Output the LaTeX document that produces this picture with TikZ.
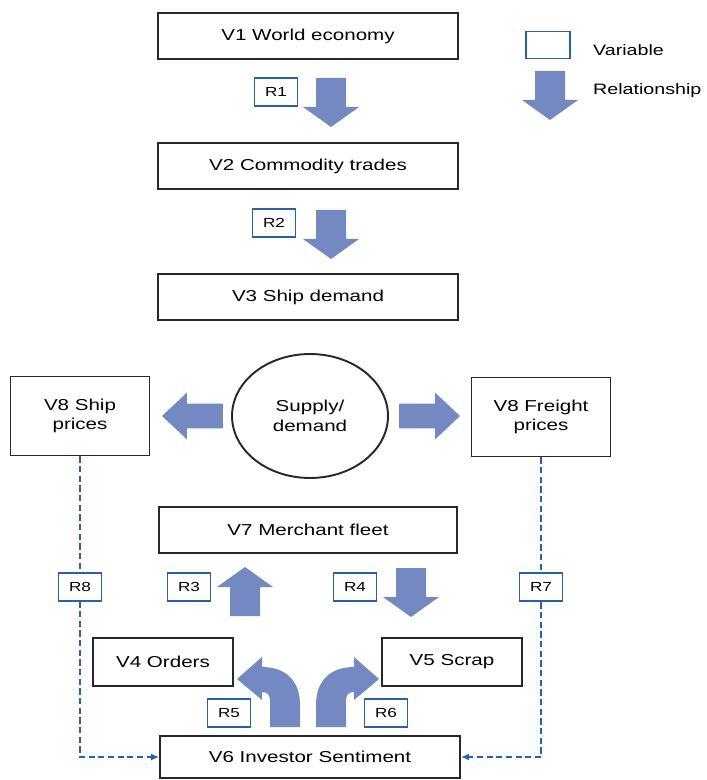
\documentclass[tikz,border=0pt]{standalone}
\usepackage{fontspec}
\newfontfamily\diafont[FakeStretch=1.3]{Liberation Sans}
\usetikzlibrary{arrows.meta,shapes.geometric}

\definecolor{relblue}{RGB}{116,136,194}
\definecolor{rblue}{RGB}{38,98,168}
\definecolor{boxgray}{RGB}{40,40,40}

% block arrow, tip at the origin, pointing down
\tikzset{
    fatarrow/.pic={
        \fill[relblue] (-15,-49) -- (15,-49) -- (15,-20) -- (28,-20) -- (0,0)
            -- (-28,-20) -- (-15,-20) -- cycle;
    }
}

\begin{document}
\begin{tikzpicture}[x=0.02cm, y=-0.02cm,
        var/.style={draw=boxgray, line width=1.1pt, fill=white, align=center,
            font=\diafont\fontsize{9}{11}\selectfont, inner sep=0pt},
        wide/.style={minimum width=6cm, minimum height=0.92cm},
        side/.style={minimum width=2.8cm, minimum height=0.97cm},
        price/.style={minimum width=2.78cm, minimum height=1.58cm},
        rel/.style={draw=rblue, line width=1pt, fill=white, inner sep=0pt,
            font=\diafont\fontsize{7.5}{9}\selectfont,
            minimum width=0.86cm, minimum height=0.57cm},
        key/.style={anchor=west, font=\diafont\fontsize{8.6}{10}\selectfont},
        sentiment/.style={draw=rblue, line width=1.5pt,
            dash pattern=on 3.5pt off 2pt, -{Latex[length=4.5pt,width=4pt]}}]
    \useasboundingbox (0,0) rectangle (706,780);

    % variables
    \node[var, wide] (world) at (308,36) {V1 World economy};
    \node[var, wide] (trade) at (308,166) {V2 Commodity trades};
    \node[var, wide] (demand) at (308,297) {V3 Ship demand};
    \node[var, ellipse, minimum width=3.12cm, minimum height=2.48cm] (sd) at (310,416) {Supply/\\demand};
    \node[var, price] (shipP) at (80,416) {V8 Ship\\prices};
    \node[var, price] (freightP) at (541,417) {V8 Freight\\prices};
    \node[var, wide, minimum width=5.96cm] (fleet) at (308,530) {V7 Merchant fleet};
    \node[var, side] (orders) at (163,662) {V4 Orders};
    \node[var, side] (scrap) at (452,662) {V5 Scrap};
    \node[var, wide, minimum height=0.84cm] (inv) at (310,757) {V6 Investor Sentiment};

    % relationships
    \pic at (331,127) {fatarrow};
    \pic at (331,259) {fatarrow};
    \pic[rotate=-90, xscale=0.83, yscale=1.24] at (162,416) {fatarrow};
    \pic[rotate=90, xscale=0.83, yscale=1.24] at (460,416) {fatarrow};
    \pic[rotate=180] at (245,567) {fatarrow};
    \pic at (411,617) {fatarrow};
    \fill[relblue] (270,727) -- (270,702) .. controls (270,695) and (268,692) .. (262,692)
        -- (262,700) -- (237,679) -- (262,657) -- (262,667)
        .. controls (285,667) and (300,680) .. (300,705) -- (300,727) -- cycle;
    \fill[relblue] (346,727) -- (346,702) .. controls (346,695) and (348,692) .. (354,692)
        -- (354,700) -- (379,679) -- (354,657) -- (354,667)
        .. controls (331,667) and (316,680) .. (316,705) -- (316,727) -- cycle;

    \draw[sentiment] (shipP.south) |- (inv.west);
    \draw[sentiment] (freightP.south) |- (inv.east);

    \node[rel] (r1) at (276,92) {R1};
    \node[rel] (r2) at (274,223) {R2};
    \node[rel] (r3) at (189,587) {R3};
    \node[rel] (r4) at (355,587) {R4};
    \node[rel] (r5) at (229,713) {R5};
    \node[rel] (r6) at (386,713) {R6};
    \node[rel] (r7) at (541,587) {R7};
    \node[rel] (r8) at (80,587) {R8};

    % legend
    \node[rel, minimum width=0.88cm, minimum height=0.54cm] (keyvar) at (548,45) {};
    \node[key] (keyvartext) at (587,50) {Variable};
    \pic at (550,120) {fatarrow};
    \node[key] (keyreltext) at (587,91) {Relationship};
\end{tikzpicture}
\end{document}
